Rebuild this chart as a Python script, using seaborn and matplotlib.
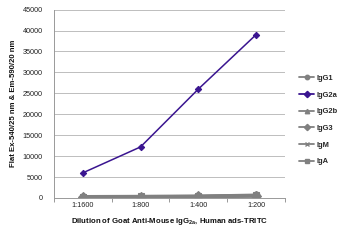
import matplotlib
matplotlib.use("Agg")
import matplotlib.pyplot as plt
import seaborn as sns
import pandas as pd
from matplotlib.ticker import FixedLocator
from matplotlib.lines import Line2D

dilutions = ["1:1600", "1:800", "1:400", "1:200"]
series_names = ["IgG1", "IgG2a", "IgG2b", "IgG3", "IgM", "IgA"]
igg1 = [300, 350, 400, 600]
igg2a = [6000, 12200, 26000, 39000]
igg2b = [250, 300, 350, 500]
igg3 = [280, 320, 380, 550]
igm = [200, 250, 300, 450]
iga = [350, 400, 450, 700]
y_ticks = [0, 5000, 10000, 15000, 20000, 25000, 30000, 35000, 40000, 45000]

values = {"IgG1": igg1, "IgG2a": igg2a, "IgG2b": igg2b, "IgG3": igg3, "IgM": igm, "IgA": iga}
rows = []
for s in series_names:
    for d, v in zip(dilutions, values[s]):
        rows.append({"Dilution": d, "Series": s, "Value": v})
df = pd.DataFrame(rows)

sns.set_theme(style="white")
plt.rcParams["font.family"] = ["Liberation Sans", "DejaVu Sans"]

gray = "#808080"
purple = "#3a1590"
palette = {"IgG1": gray, "IgG2a": purple, "IgG2b": gray, "IgG3": gray, "IgM": gray, "IgA": gray}
markers = {"IgG1": "o", "IgG2a": "D", "IgG2b": "^", "IgG3": "D", "IgM": "x", "IgA": "s"}

fig = plt.figure(figsize=(3.5, 2.4), dpi=100)
ax = fig.add_axes([0.154, 0.175, 0.66, 0.785])

draw_order = ["IgG1", "IgG2b", "IgG3", "IgM", "IgA", "IgG2a"]
for s in draw_order:
    sub = df[df["Series"] == s]
    sns.lineplot(data=sub, x="Dilution", y="Value", ax=ax, color=palette[s],
                 marker=markers[s], markersize=3.2 if s == "IgG2a" else 5,
                 markeredgewidth=0.8, markeredgecolor=palette[s],
                 linewidth=1.1 if s == "IgG2a" else 2.2, label=s, legend=False, sort=False)

ax.set_xlim(-0.5, len(dilutions) - 0.5)
ax.set_ylim(0, 45000)
ax.set_yticks(y_ticks)
ax.set_yticklabels([str(t) for t in y_ticks], fontsize=5.2, color="#222222")
ax.set_xticks(range(len(dilutions)))
ax.set_xticklabels(dilutions, fontsize=5.2, color="#222222")
ax.xaxis.set_minor_locator(FixedLocator([-0.5, 0.5, 1.5, 2.5, 3.5]))
ax.tick_params(axis="x", which="major", length=0, pad=3)
ax.tick_params(axis="x", which="minor", length=3, width=0.6, color="#888888", direction="out", bottom=True)
ax.tick_params(axis="y", length=0, pad=8)

ax.grid(axis="y", color="#bdbdbd", linewidth=0.7)
ax.set_axisbelow(True)
for sp in ["top", "right"]:
    ax.spines[sp].set_visible(False)
for sp in ["left", "bottom"]:
    ax.spines[sp].set_color("#999999")
    ax.spines[sp].set_linewidth(0.7)

ax.set_xlabel("Dilution of Goat Anti-Mouse IgG$_{\\mathregular{2a}}$, Human ads-TRITC",
              fontsize=5.6, fontweight="bold", labelpad=5, color="#111111")
ax.set_ylabel("Flat Ex-540/25 nm & Em-590/20 nm", fontsize=5.6, fontweight="bold",
              labelpad=4, color="#111111")

handles = [Line2D([0], [0], color=palette[s], marker=markers[s], markersize=3.2,
                  markeredgecolor=palette[s], linewidth=1.3) for s in series_names]
leg = fig.legend(handles, series_names, loc="center left", bbox_to_anchor=(0.835, 0.5),
                 frameon=False, handlelength=2.0, handletextpad=0.3,
                 labelspacing=1.25, prop={"weight": "bold", "size": 5.4})

fig.savefig("out.png", dpi=100)
